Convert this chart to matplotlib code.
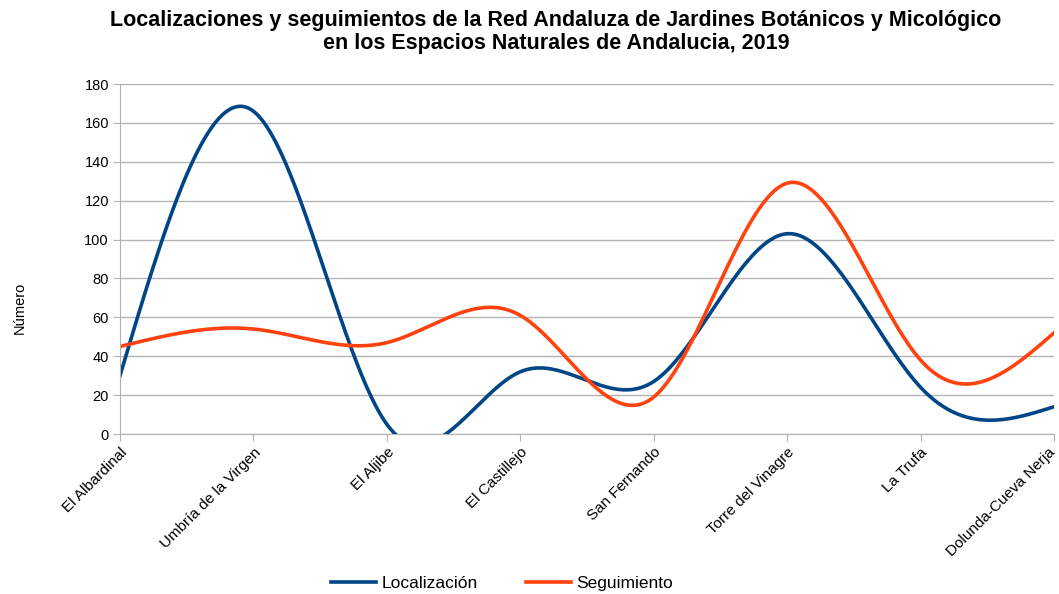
import numpy as np
import matplotlib
matplotlib.use("Agg")
import matplotlib.pyplot as plt
import matplotlib.transforms as mtransforms

categories = ["El Albardinal", "Umbría de la Virgen", "El Aljibe", "El Castillejo",
              "San Fernando", "Torre del Vinagre", "La Trufa", "Dolunda-Cueva Nerja"]
localizacion = [30, 166, 5, 32, 27, 103, 24, 14]
seguimiento = [45, 54, 47, 61, 19, 129, 38, 52]
yticks = [0, 20, 40, 60, 80, 100, 120, 140, 160, 180]


def natural_spline(x, y, xs):
    x = np.asarray(x, float); y = np.asarray(y, float)
    n = len(x)
    h = np.diff(x)
    A = np.zeros((n, n)); b = np.zeros(n)
    A[0, 0] = 1; A[-1, -1] = 1
    for i in range(1, n - 1):
        A[i, i - 1] = h[i - 1]
        A[i, i] = 2 * (h[i - 1] + h[i])
        A[i, i + 1] = h[i]
        b[i] = 6 * ((y[i + 1] - y[i]) / h[i] - (y[i] - y[i - 1]) / h[i - 1])
    M = np.linalg.solve(A, b)
    out = np.empty_like(xs)
    for k, xv in enumerate(xs):
        i = min(max(np.searchsorted(x, xv) - 1, 0), n - 2)
        t1 = x[i + 1] - xv; t0 = xv - x[i]
        out[k] = (M[i] * t1 ** 3 + M[i + 1] * t0 ** 3) / (6 * h[i]) \
            + (y[i] / h[i] - M[i] * h[i] / 6) * t1 \
            + (y[i + 1] / h[i] - M[i + 1] * h[i] / 6) * t0
    return out


plt.rcParams['font.family'] = ['Liberation Sans', 'DejaVu Sans']
fig = plt.figure(figsize=(10.59, 5.94), dpi=100)
ax = fig.add_axes([120 / 1059, 1 - 434 / 594, (1054 - 120) / 1059, (434 - 84) / 594])

x = np.arange(len(categories))
xs = np.linspace(0, len(categories) - 1, 800)
ax.plot(xs, natural_spline(x, localizacion, xs), color='#004586', lw=2.6, label='Localización')
ax.plot(xs, natural_spline(x, seguimiento, xs), color='#ff420e', lw=2.6, label='Seguimiento')

ax.set_xlim(0, len(categories) - 1)
ax.set_ylim(0, 180)
ax.set_yticks(yticks)
ax.set_xticks(x)
ax.set_xticklabels(categories, rotation=45, ha='right', rotation_mode='anchor', fontsize=11)
ax.tick_params(axis='y', labelsize=10.5, length=5, color='#b3b3b3', direction='out', pad=3)
ax.tick_params(axis='x', length=5, color='#b3b3b3', direction='out', pad=3)
# nudge last label slightly left so it stays inside the figure
last = ax.get_xticklabels()[-1]
last.set_transform(last.get_transform() +
                   mtransforms.ScaledTranslation(-6 / 100, 0, fig.dpi_scale_trans))
ax.grid(axis='y', color='#b3b3b3', lw=1)
ax.set_axisbelow(True)
for s in ['top', 'right']:
    ax.spines[s].set_visible(False)
for s in ['left', 'bottom']:
    ax.spines[s].set_color('#b3b3b3')
ax.set_ylabel('Número', fontsize=10.5)
ax.yaxis.set_label_coords((27 - 120) / 934, (434 - 308) / 350)

fig.suptitle('Localizaciones y seguimientos de la Red Andaluza de Jardines Botánicos y Micológico\n'
             'en los Espacios Naturales de Andalucia, 2019',
             x=556 / 1059, y=1 - 10 / 594, fontsize=15.5, fontweight='bold', linespacing=1.1)

fig.legend(loc='center', bbox_to_anchor=(502 / 1059, 1 - 583 / 594), ncol=2, frameon=False,
           fontsize=12.5, handlelength=2.6, handletextpad=0.3, columnspacing=2.8)

fig.savefig('out.png', dpi=100)
